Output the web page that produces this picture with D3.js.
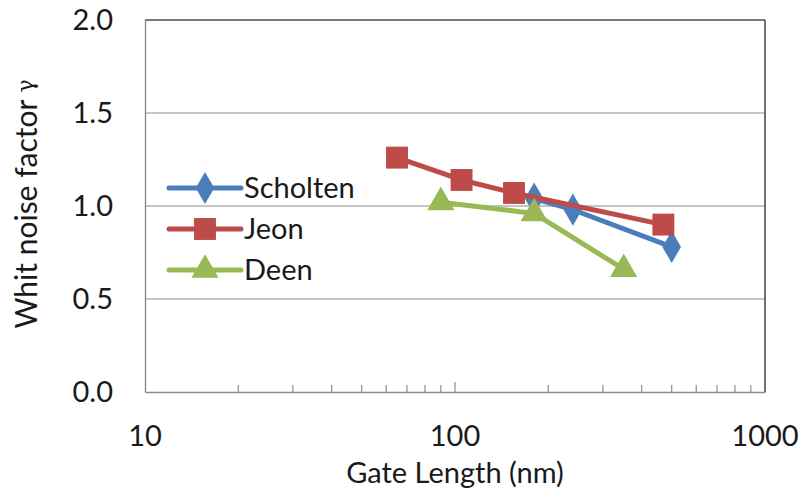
<!DOCTYPE html>
<html>
<head>
<meta charset="utf-8">
<script src="https://cdn.jsdelivr.net/npm/d3@7"></script>
<style>
  html, body { margin: 0; padding: 0; background: #fff; }
  text { font-family: Lato, "Open Sans", sans-serif; fill: #1a1a1a; }
</style>
</head>
<body>
<svg id="chart" width="802" height="496"></svg>
<script>
// Gate length (nm) vs. white noise factor for three published data sets
const scholtenX = [180, 240, 500];
const scholtenY = [1.04, 0.98, 0.78];
const jeonX = [65, 105, 155, 470];
const jeonY = [1.26, 1.14, 1.07, 0.90];
const deenX = [90, 180, 350];
const deenY = [1.02, 0.96, 0.66];

const seriesNames = ["Scholten", "Jeon", "Deen"];
const seriesColors = ["#4A7EBB", "#BE4B48", "#98B954"];
const seriesShapes = [d3.symbolDiamond, d3.symbolSquare, d3.symbolTriangle];

const yTicks = [0, 0.5, 1.0, 1.5, 2.0];
const xMajorTicks = [10, 100, 1000];

const series = [
  { name: seriesNames[0], x: scholtenX, y: scholtenY },
  { name: seriesNames[1], x: jeonX, y: jeonY },
  { name: seriesNames[2], x: deenX, y: deenY }
];

const margin = { left: 145, right: 37, top: 20, bottom: 104 };
const W = 802, H = 496;
const iw = W - margin.left - margin.right;
const ih = H - margin.top - margin.bottom;
const fs = "29px";

const svg = d3.select("#chart");
const g = svg.append("g").attr("transform", `translate(${margin.left},${margin.top})`);

const x = d3.scaleLog().domain([10, 1000]).range([0, iw]);
const y = d3.scaleLinear().domain([0, 2]).range([ih, 0]);

// horizontal gridlines
g.selectAll("line.grid").data(yTicks.filter(v => v > 0 && v < 2)).enter()
  .append("line").attr("class", "grid")
  .attr("x1", 0).attr("x2", iw)
  .attr("y1", d => y(d)).attr("y2", d => y(d))
  .attr("stroke", "#8c8c8c").attr("stroke-width", 1.2);

// plot frame
g.append("line").attr("x1", 0).attr("x2", iw).attr("y1", 0).attr("y2", 0)
  .attr("stroke", "#4d4d4d").attr("stroke-width", 1.6);
g.append("line").attr("x1", iw).attr("x2", iw).attr("y1", 0).attr("y2", ih)
  .attr("stroke", "#4d4d4d").attr("stroke-width", 1.6);

// y axis
const yAxis = d3.axisLeft(y).tickValues(yTicks).tickFormat(d3.format(".1f")).tickSize(0).tickPadding(32);
const yg = g.append("g").call(yAxis);
yg.select(".domain").attr("stroke", "#8c8c8c").attr("stroke-width", 1.4);
yg.selectAll("text").style("font-size", fs).style("font-family", "Lato, sans-serif").attr("fill", "#1a1a1a");

// x axis: minor ticks point inward
const xTickVals = [];
[10, 100].forEach(dec => { for (let k = 1; k <= 10; k++) xTickVals.push(dec * k); });
const xUnique = Array.from(new Set(xTickVals));
const xg = g.append("g").attr("transform", `translate(0,${ih})`);
xg.call(d3.axisBottom(x).tickValues(xUnique).tickSize(0).tickFormat(""));
xg.select(".domain").attr("stroke", "#8c8c8c").attr("stroke-width", 1.4);
xg.selectAll(".tick line").remove();
xg.selectAll("line.mtick").data(xUnique.filter(v => v > 10 && v < 1000)).enter()
  .append("line").attr("class", "mtick")
  .attr("x1", d => x(d)).attr("x2", d => x(d))
  .attr("y1", 0).attr("y2", d => xMajorTicks.includes(d) ? -10 : -7)
  .attr("stroke", "#8c8c8c").attr("stroke-width", 1.2);
xg.selectAll("text.xl").data(xMajorTicks).enter()
  .append("text").attr("class", "xl")
  .attr("x", d => x(d)).attr("y", 54)
  .attr("text-anchor", "middle")
  .style("font-size", fs)
  .text(d => d);

// axis titles
g.append("text").attr("x", iw / 2).attr("y", ih + 91)
  .attr("text-anchor", "middle").style("font-size", "29px")
  .text("Gate Length (nm)");
const yt = svg.append("text")
  .attr("transform", `translate(37,${margin.top + ih / 2 - 2}) rotate(-90)`)
  .attr("text-anchor", "middle").style("font-size", "30px");
yt.append("tspan").text("Whit noise factor ");
yt.append("tspan").attr("font-family", "DejaVu Serif, serif").style("font-size", "22px").attr("dy", "-0.2em").text("γ");

// series lines and markers
const line = d3.line().x(d => x(d[0])).y(d => y(d[1]));
const symSizes = [300, 480, 320];
series.forEach((s, i) => {
  const pts = s.x.map((v, j) => [v, s.y[j]]);
  g.append("path").datum(pts)
    .attr("d", line).attr("fill", "none")
    .attr("stroke", seriesColors[i]).attr("stroke-width", 5)
    .attr("stroke-linejoin", "round");
  g.selectAll(null).data(pts).enter().append("path")
    .attr("transform", d => `translate(${x(d[0])},${y(d[1])})`)
    .attr("d", d3.symbol().type(seriesShapes[i]).size(symSizes[i]))
    .attr("fill", seriesColors[i]);
});

// legend
const legend = svg.append("g").attr("transform", "translate(169,188)");
seriesNames.forEach((name, i) => {
  const row = legend.append("g").attr("transform", `translate(0,${i * 41})`);
  row.append("line").attr("x1", 0).attr("x2", 72).attr("y1", 0).attr("y2", 0)
    .attr("stroke", seriesColors[i]).attr("stroke-width", 5).attr("stroke-linecap", "round");
  row.append("path").attr("transform", "translate(36,0)")
    .attr("d", d3.symbol().type(seriesShapes[i]).size(symSizes[i])).attr("fill", seriesColors[i]);
  row.append("text").attr("x", 75).attr("y", 0).attr("dy", "0.36em")
    .style("font-size", fs).text(name);
});
</script>
</body>
</html>
